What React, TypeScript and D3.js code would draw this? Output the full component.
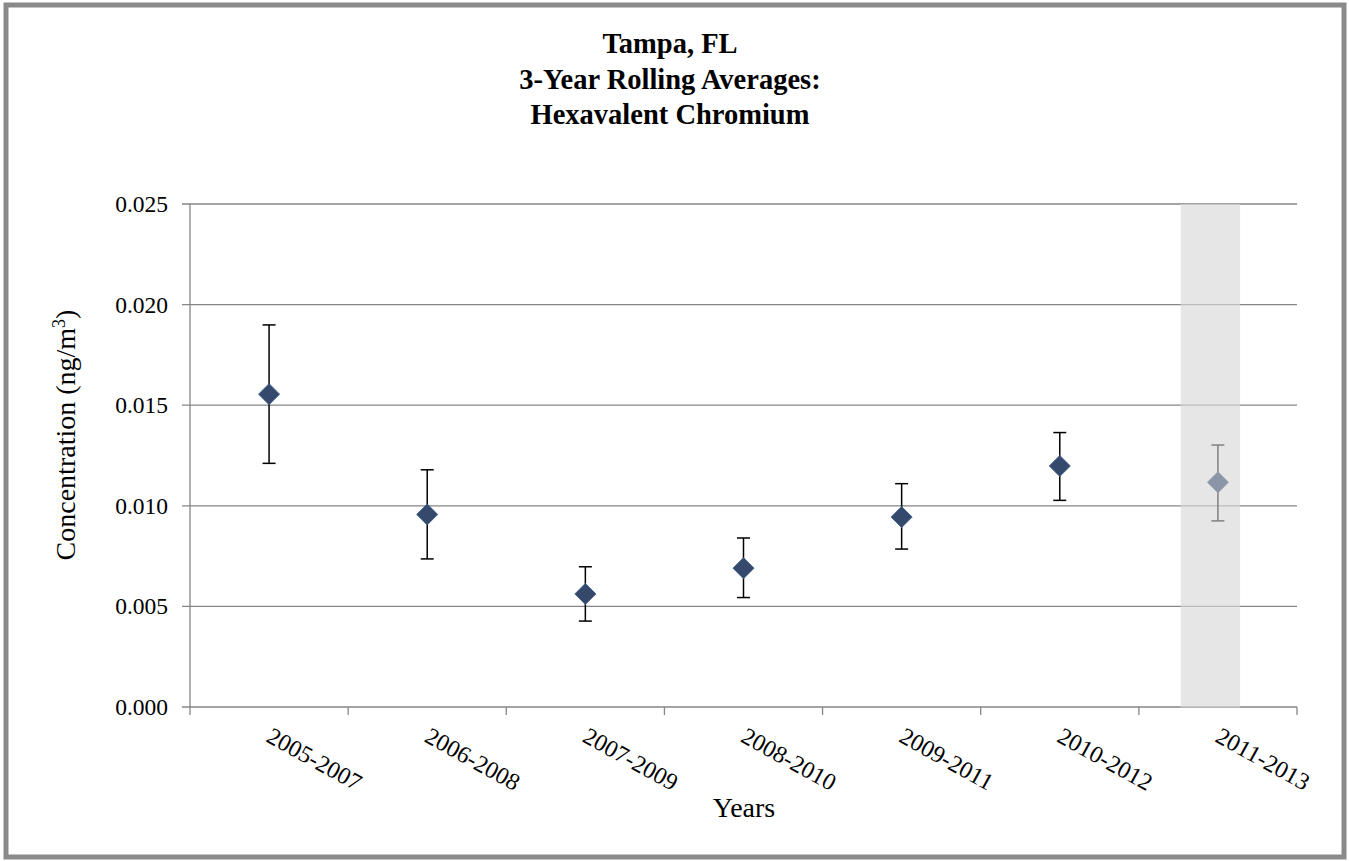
import React from "react";
import * as d3 from "d3";

const categories = ["2005-2007", "2006-2008", "2007-2009", "2008-2010", "2009-2011", "2010-2012", "2011-2013"];
const means = [0.01555, 0.00957, 0.00562, 0.00690, 0.00944, 0.01198, 0.01117];
const upper = [0.01899, 0.01179, 0.00697, 0.00840, 0.01110, 0.01364, 0.01302];
const lower = [0.01211, 0.00736, 0.00427, 0.00544, 0.00785, 0.01027, 0.00925];
const yTicks = [0, 0.005, 0.01, 0.015, 0.02, 0.025];
const titleLines = ["Tampa, FL", "3-Year Rolling Averages:", "Hexavalent Chromium"];
const highlighted = "2011-2013";

const W = 1349;
const H = 861;
const FONT = "'Liberation Serif', 'Times New Roman', serif";

export default function App() {
  const x = d3.scaleBand<string>().domain(categories).range([190, 1297]).padding(0);
  const y = d3.scaleLinear().domain([0, 0.025]).range([707, 204]);
  const bw = x.bandwidth();
  const fmt = d3.format(".3f");
  const grid = "#868686";
  const ticksX = categories.map((c) => x(c)!).concat([1297]);
  const hx = x(highlighted)!;

  return (
    <svg width={W} height={H} style={{ position: "absolute", left: 0, top: 0, display: "block" }}>
      <rect x={0} y={0} width={W} height={H} fill="#fff" />
      <rect x={6} y={5} width={1338} height={852} fill="#fff" stroke="#8a8a8a" strokeWidth={5} />
      {titleLines.map((t, i) => (
        <text key={t} x={670} y={53 + i * 35.5} textAnchor="middle" fontFamily={FONT} fontWeight="bold" fontSize={28.5} fill="#000">
          {t}
        </text>
      ))}
      {yTicks.map((v) => (
        <g key={v}>
          <line x1={182} x2={1297} y1={y(v)} y2={y(v)} stroke={grid} strokeWidth={1.3} />
          <text x={168} y={y(v) + 8} textAnchor="end" fontFamily={FONT} fontSize={23.5} fill="#000">
            {fmt(v)}
          </text>
        </g>
      ))}
      <line x1={190} x2={190} y1={204} y2={707} stroke={grid} strokeWidth={1.3} />
      {ticksX.map((tx, i) => (
        <line key={i} x1={tx} x2={tx} y1={707} y2={715} stroke={grid} strokeWidth={1.3} />
      ))}
      <rect x={hx + 0.265 * bw} y={204} width={0.375 * bw} height={503.5} fill="#d9d9d9" fillOpacity={0.65} />
      {categories.map((c, i) => {
        const cx = x(c)! + bw / 2;
        const hl = c === highlighted;
        const barColor = hl ? "#808080" : "#000";
        const fill = hl ? "#8a95a7" : "#34496b";
        const stroke = hl ? "#9aa3b3" : "#46618c";
        const cy = y(means[i]);
        const r = 10.5;
        return (
          <g key={c}>
            <line x1={cx} x2={cx} y1={y(upper[i])} y2={y(lower[i])} stroke={barColor} strokeWidth={1.5} />
            <line x1={cx - 6.5} x2={cx + 6.5} y1={y(upper[i])} y2={y(upper[i])} stroke={barColor} strokeWidth={1.5} />
            <line x1={cx - 6.5} x2={cx + 6.5} y1={y(lower[i])} y2={y(lower[i])} stroke={barColor} strokeWidth={1.5} />
            <path d={`M${cx},${cy - r}L${cx + r},${cy}L${cx},${cy + r}L${cx - r},${cy}Z`} fill={fill} stroke={stroke} strokeWidth={1} />
            <text
              x={cx - 4}
              y={741}
              transform={`rotate(29 ${cx - 4} 741)`}
              fontFamily={FONT}
              fontSize={24}
              fill="#000"
            >
              {c}
            </text>
          </g>
        );
      })}
      <text x={744} y={817} textAnchor="middle" fontFamily={FONT} fontSize={28} fill="#000">
        Years
      </text>
      <text transform="translate(75,435) rotate(-90)" textAnchor="middle" fontFamily={FONT} fontSize={28} fill="#000">
        Concentration (ng/m<tspan dy={-10} fontSize={18}>3</tspan>
        <tspan dy={10}>)</tspan>
      </text>
    </svg>
  );
}
